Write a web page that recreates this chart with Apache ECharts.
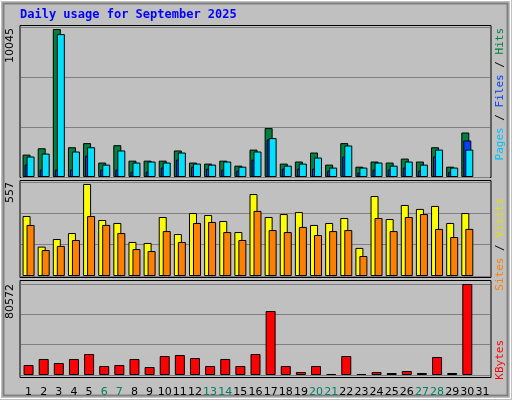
<!DOCTYPE html>
<html><head><meta charset="utf-8">
<script src="https://cdn.jsdelivr.net/npm/echarts@6/dist/echarts.min.js"></script>
<style>html,body{margin:0;padding:0;background:#c0c0c0}#chart{width:512px;height:400px}</style>
</head><body><div id="chart"></div>
<script>
const days = ['1','2','3','4','5','6','7','8','9','10','11','12','13','14','15','16','17','18','19','20','21','22','23','24','25','26','27','28','29','30','31'];
const weekend = ['6','7','13','14','20','21','27','28'];
const hits  = [1520,1950,10045,2020,2300,980,2160,1110,1110,1110,1800,980,910,1110,770,1860,3320,910,1050,1660,840,2300,700,1050,980,1250,1050,2020,700,3020,null];
const files = [1390,1590,9700,1730,2020,840,1800,980,1050,980,1660,910,840,1050,700,1730,2640,770,910,1320,640,2140,640,980,770,1050,840,1860,640,1860,null];
const pages = [840,500,500,500,1450,500,500,360,360,640,1180,700,570,500,430,1180,2550,570,570,570,430,1390,300,500,500,640,430,1390,360,2480,null];
const visits = [363,178,224,260,557,339,321,206,200,357,254,381,369,333,266,496,357,375,387,309,321,351,170,484,345,430,406,424,321,381,null];
const sites  = [309,157,182,218,363,309,260,163,151,272,206,321,327,266,218,394,278,266,297,248,272,278,121,351,272,357,375,285,236,285,null];
const kbytes = [8850,14170,10620,14170,18590,7970,8850,14170,7080,16820,17710,15050,7970,14170,7970,18590,56660,7970,2660,7970,890,16820,890,2660,1770,3540,1770,15940,1770,80572,null];

const C = {hits:'#008040', files:'#00e0ff', pages:'#0040ff', visits:'#ffff00', sites:'#ff8000', kb:'#ff0000'};
const panels = [
  {top:27, height:150, max:10181},
  {top:182, height:94, max:569},
  {top:284, height:91, max:80572}
];
const grids = panels.map(p => ({left:21, right:22, top:p.top, height:p.height}));
const xAxes = panels.map((p, i) => ({
  type:'category', gridIndex:i, data:days,
  axisLine:{show:false}, axisTick:{show:false},
  axisLabel:{show:i === 2, interval:0, margin:12, fontFamily:'DejaVu Sans', fontSize:11, color:'#000',
    formatter: v => weekend.includes(v) ? '{w|' + v + '}' : v,
    rich:{w:{color:'#00805c', fontFamily:'DejaVu Sans', fontSize:11}}}
}));
const yAxes = panels.map((p, i) => ({
  type:'value', gridIndex:i, min:0, max:p.max, interval:p.max/3,
  axisLabel:{show:false}, axisLine:{show:false}, axisTick:{show:false},
  splitLine:{lineStyle:{color:'#808080', width:1}}
}));
const bs = (name, data, color, xi, w, gap, z) => ({
  name, type:'bar', data, xAxisIndex:xi, yAxisIndex:xi, barWidth:w, barGap:gap, z:z,
  itemStyle:{color, borderColor:'#000', borderWidth:1}, silent:true
});

const panelRect = (y, h) => ({type:'rect', shape:{x:20, y:y, width:471, height:h},
  style:{fill:'#c0c0c0', stroke:'#000', lineWidth:1}, z:-10});
const font = '11px "DejaVu Sans Mono"';
const vlabel = (x, y, parts) => ({type:'text', x:x, y:y, rotation:Math.PI/2,
  style:{text: parts.map(p => '{' + p[0] + '|' + p[1] + '}').join(''), align:'right', verticalAlign:'middle',
    rich: Object.fromEntries(parts.map(p => [p[0], {fill:p[2], font:font}]))}});
const ltext = (x, y, text) => ({type:'text', x:x, y:y, rotation:Math.PI/2,
  style:{text, fill:'#000', font:'11px "DejaVu Sans"', align:'right', verticalAlign:'middle'}});

const chart = echarts.init(document.getElementById('chart'));
chart.setOption({
  backgroundColor:'#c0c0c0',
  animation:false,
  grid:grids, xAxis:xAxes, yAxis:yAxes,
  graphic:[
    {type:'rect', shape:{x:0.5, y:0.5, width:510, height:398}, style:{fill:'none', stroke:'#ffffff', lineWidth:1}, z:-20},
    {type:'rect', shape:{x:3.5, y:3.5, width:504, height:392}, style:{fill:'none', stroke:'#808080', lineWidth:2}, z:-20},
    panelRect(25.5, 152), panelRect(180.5, 97), panelRect(280.5, 97),
    {type:'text', x:20, y:9, style:{text:'Daily usage for September 2025', fill:'#0000ff',
      font:'bold 12px "DejaVu Sans Mono"'}},
    ltext(10, 28, '10045'), ltext(10, 182, '557'), ltext(10, 284, '80572'),
    vlabel(500, 28, [['a','Pages','#00c0ff'],['b',' / ','#000'],['c','Files','#0040ff'],['d',' / ','#000'],['e','Hits',C.hits]]),
    vlabel(500, 198, [['a','Sites',C.sites],['b',' / ','#000'],['c','Visits','#e0e000']]),
    vlabel(500, 340, [['a','KBytes',C.kb]])
  ],
  series:[
    bs('Hits', hits, C.hits, 0, 8, '-75%', 2),
    bs('Pages', pages, C.pages, 0, 8, '-75%', 3),
    bs('Files', files, C.files, 0, 8, '-75%', 4),
    bs('Visits', visits, C.visits, 1, 8, '-50%', 2),
    bs('Sites', sites, C.sites, 1, 8, '-50%', 3),
    bs('KBytes', kbytes, C.kb, 2, 10, '0%', 2)
  ]
});
</script></body></html>
